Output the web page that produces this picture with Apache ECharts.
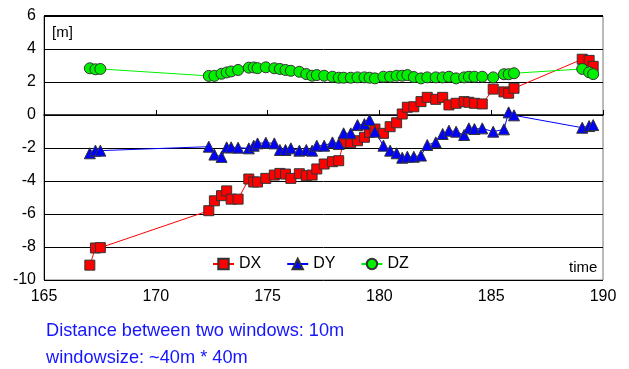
<!DOCTYPE html>
<html><head><meta charset="utf-8">
<script src="https://cdn.jsdelivr.net/npm/echarts@6/dist/echarts.min.js"></script>
<style>html,body{margin:0;padding:0;background:#fff;}#c{width:629px;height:369px;}</style>
</head><body><div id="c"></div>
<script>
const time = [167.05,167.3,167.52,172.37,172.62,172.94,173.17,173.37,173.68,174.16,174.38,174.55,174.92,175.3,175.55,175.8,176.04,176.42,176.73,176.99,177.2,177.53,177.9,178.18,178.4,178.72,179.02,179.33,179.56,179.8,180.18,180.48,180.77,181.02,181.25,181.54,181.86,182.14,182.52,182.83,183.11,183.43,183.79,184.0,184.25,184.6,185.09,185.57,185.78,186.02,189.07,189.38,189.56];
const dx = [-9.1,-8.06,-8.04,-5.8,-5.2,-4.89,-4.6,-5.1,-5.1,-3.88,-4.06,-4.06,-3.84,-3.64,-3.54,-3.58,-3.84,-3.56,-3.68,-3.64,-3.27,-2.97,-2.83,-2.77,-1.66,-1.66,-1.56,-1.35,-1.05,-0.85,-1.11,-0.71,-0.47,0.06,0.47,0.5,0.81,1.07,0.95,1.07,0.61,0.71,0.81,0.77,0.71,0.67,1.57,1.4,1.32,1.62,3.38,3.31,2.95];
const dy = [-2.32,-2.16,-2.16,-1.92,-2.4,-2.54,-1.96,-1.96,-1.98,-2.02,-1.86,-1.72,-1.68,-1.72,-2.12,-2.12,-2.02,-2.16,-2.12,-2.16,-1.86,-1.86,-1.66,-1.76,-1.11,-1.11,-0.61,-0.55,-0.3,-1.01,-1.86,-2.16,-2.32,-2.59,-2.53,-2.53,-2.46,-1.82,-1.66,-1.15,-0.95,-1.01,-1.21,-0.81,-0.85,-0.81,-1.01,-0.87,0.16,-0.02,-0.77,-0.67,-0.61];
const dz = [2.83,2.77,2.79,2.37,2.37,2.5,2.58,2.64,2.73,2.87,2.88,2.84,2.89,2.83,2.79,2.73,2.68,2.62,2.48,2.38,2.42,2.38,2.32,2.26,2.26,2.26,2.28,2.28,2.26,2.22,2.32,2.32,2.38,2.38,2.42,2.3,2.22,2.28,2.28,2.28,2.32,2.22,2.28,2.32,2.32,2.32,2.28,2.47,2.47,2.53,2.79,2.59,2.48];
const seriesNames = ['DX','DY','DZ'];
const xTicks = {min:165, max:190, interval:5};
const yTicks = {min:-10, max:6, interval:2};
const notes = ['Distance between two windows: 10m','windowsize: ~40m * 40m'];

const pair = arr => time.map((t,i)=>[t,arr[i]]);
const F = '"Liberation Sans", Arial, sans-serif';
const chart = echarts.init(document.getElementById('c'));
const mk = (name, data, color, symbol, size) => ({
  name, type:'line', data, symbol, symbolSize:size,
  lineStyle:{color, width:1},
  itemStyle:{color, borderColor:'#333', borderWidth:1},
  emphasis:{disabled:true}, animation:false, z: 3
});
chart.setOption({
  animation:false,
  grid:{left:44, right:26, top:16, bottom:89, show:true, borderColor:'#777', borderWidth:1},
  xAxis:{type:'value', min:xTicks.min, max:xTicks.max, interval:xTicks.interval,
    axisLine:{lineStyle:{color:'#000', width:1.5}},
    axisTick:{inside:true, length:5, lineStyle:{color:'#000'}},
    axisLabel:{color:'#000', fontSize:16, fontFamily:F, margin:9},
    splitLine:{show:false}},
  yAxis:{type:'value', min:yTicks.min, max:yTicks.max, interval:yTicks.interval,
    axisLine:{show:true, lineStyle:{color:'#000', width:1}},
    axisTick:{show:false},
    axisLabel:{color:'#000', fontSize:16, fontFamily:F, margin:8},
    splitLine:{lineStyle:{color:'#000', width:1}}},
  legend:{left:207, top:251, itemWidth:21, itemHeight:13, itemGap:25,
    textStyle:{fontSize:16, fontFamily:F, color:'#000'}, data:seriesNames},
  graphic:[
    {type:'rect', shape:{x:44,y:15,width:559,height:2}, style:{fill:'#000'}, z:10},
    {type:'text', left:52, top:25, style:{text:'[m]', fontSize:15, fontFamily:F, fill:'#000'}},
    {type:'text', left:569, top:260, style:{text:'time', fontSize:15, fontFamily:F, fill:'#000'}},
    {type:'text', left:46, top:322, style:{text:notes[0], fontSize:18.2, fontFamily:F, fill:'#1515ff'}},
    {type:'text', left:46, top:349, style:{text:notes[1], fontSize:18.2, fontFamily:F, fill:'#1515ff'}}
  ],
  series:[
    mk('DX', pair(dx), '#ff0000', 'rect', 10),
    mk('DY', pair(dy), '#0000ff', 'triangle', 11),
    mk('DZ', pair(dz), '#00f000', 'circle', 11)
  ]
});
</script></body></html>
